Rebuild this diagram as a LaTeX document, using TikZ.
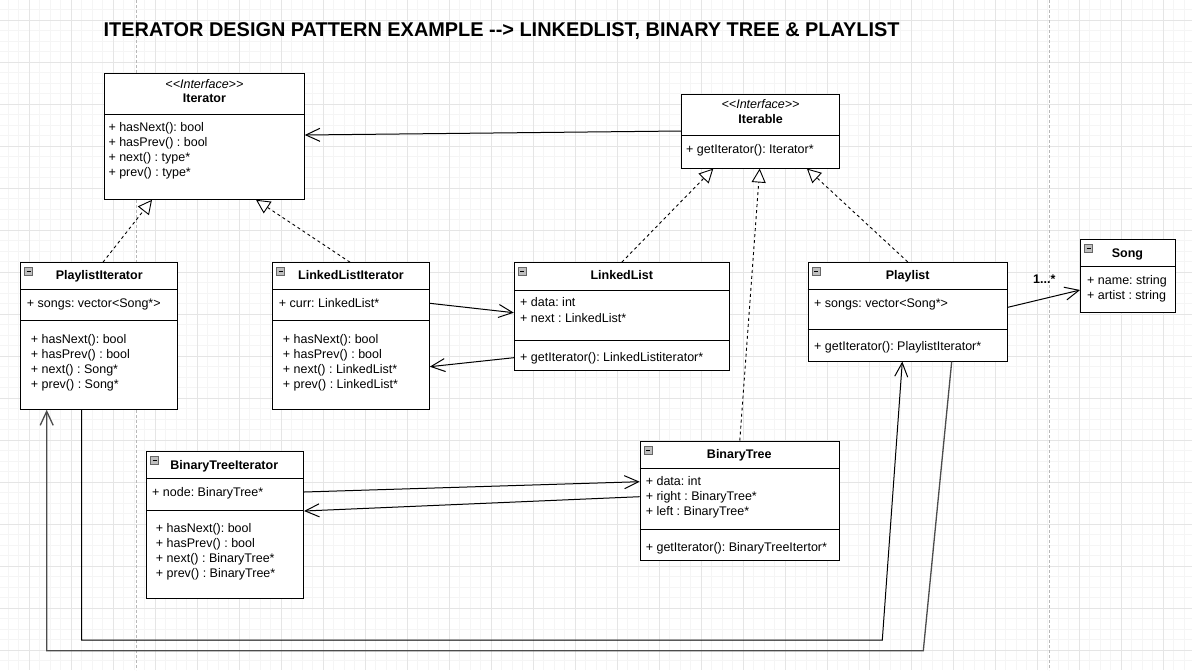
\documentclass[tikz,border=0pt]{standalone}
\usepackage{fontspec}
\setmainfont{Liberation Sans}
\usetikzlibrary{arrows.meta,positioning}

\begin{document}
\frenchspacing
\begin{tikzpicture}[x=1pt,y=-1pt,
  classbox/.style={draw,line width=1pt,fill=white,inner sep=0pt},
  member/.style={anchor=west,inner sep=0pt,text height=9pt,text depth=2.5pt,font=\fontsize{12.5}{15}\selectfont},
  classname/.style={inner sep=0pt,text height=9pt,text depth=2.5pt,font=\fontsize{12.5}{15}\selectfont\bfseries},
  stereo/.style={inner sep=0pt,text height=9pt,text depth=2.5pt,font=\fontsize{12.5}{15}\selectfont\itshape},
  sepline/.style={line width=1pt},
  minusicon/.style={draw=black!60,fill=black!25,minimum size=8pt,inner sep=0pt,line width=0.6pt},
  realize/.style={line width=0.9pt,dash pattern=on 3pt off 3pt,-{Triangle[open,length=14pt,width=14pt,fill=white]}},
  assoc/.style={line width=1pt,-{Straight Barb[length=14pt,width=13pt]}},
  minorgrid/.style={draw=black!4,line width=0.8pt},
  majorgrid/.style={draw=black!10,line width=0.8pt},
  pageline/.style={draw=black!28,line width=0.8pt,dash pattern=on 3pt off 2pt}]

\useasboundingbox (0,0) rectangle (1192,670);
\fill[white] (0,0) rectangle (1192,670);

% background grid
\foreach \x in {8.3,18.8,...,1192} \draw[minorgrid] (\x,0) -- (\x,670);
\foreach \y in {9.8,20.3,...,670} \draw[minorgrid] (0,\y) -- (1192,\y);
\foreach \x in {29.3,71.3,...,1192} \draw[majorgrid] (\x,0) -- (\x,670);
\foreach \y in {20.3,62.3,...,670} \draw[majorgrid] (0,\y) -- (1192,\y);
\draw[pageline] (136,0) -- (136,670);
\draw[pageline] (1049.3,0) -- (1049.3,670);

\node[anchor=base west,inner sep=0pt,font=\fontsize{19.9}{22}\selectfont\bfseries] (title) at (103.5,36)
{ITERATOR DESIGN PATTERN EXAMPLE -\kern0pt-> LINKEDLIST, BINARY TREE \& PLAYLIST};

% Iterator
\node[classbox,minimum width=199.7pt,minimum height=126pt] (iter) at (204.4,136.3) {};
\draw[sepline] (iter.west |- 0,114) -- (iter.east |- 0,114);
\node[stereo] (iter-st) at (204.4,85.7) {<\kern0pt<Interface>\kern0pt>};
\node[classname] (iter-name) at (204.4,99) {Iterator};
\foreach \t [count=\i] in {+ hasNext(): bool,+ hasPrev() : bool,+ next() : type*,+ prev() : type*}
  \node[member] (iter-m\i) at (108.3,{113.3+15*\i}) {\t};

% Iterable
\node[classbox,minimum width=157.4pt,minimum height=73.7pt] (itbl) at (760.6,131.2) {};
\draw[sepline] (itbl.west |- 0,135.3) -- (itbl.east |- 0,135.3);
\node[stereo] (itbl-st) at (760.6,105.7) {<\kern0pt<Interface>\kern0pt>};
\node[classname] (itbl-name) at (760.6,120) {Iterable};
\node[member] (itbl-m1) at (686,150) {+ getIterator(): Iterator*};

% PlaylistIterator
\node[classbox,minimum width=157pt,minimum height=146.6pt] (pi) at (99.2,336) {};
\draw[sepline] (pi.west |- 0,289.3) -- (pi.east |- 0,289.3);
\draw[sepline] (pi.west |- 0,320.7) -- (pi.east |- 0,320.7);
\node[minusicon] (pi-ic) at (28.7,271.7) {\rule{4pt}{0.7pt}};
\node[classname] (pi-name) at (99.2,276.7) {PlaylistIterator};
\node[member] (pi-a1) at (26.7,304) {+ songs: vector<Song*>};
\foreach \t [count=\i] in {+ hasNext(): bool,+ hasPrev() : bool,+ next() : Song*,+ prev() : Song*}
  \node[member] (pi-m\i) at (30.7,{325+15*\i}) {\t};

% LinkedListIterator
\node[classbox,minimum width=156.6pt,minimum height=146.6pt] (lli) at (351,336) {};
\draw[sepline] (lli.west |- 0,289.3) -- (lli.east |- 0,289.3);
\draw[sepline] (lli.west |- 0,320.7) -- (lli.east |- 0,320.7);
\node[minusicon] (lli-ic) at (280.7,271.7) {\rule{4pt}{0.7pt}};
\node[classname] (lli-name) at (351,276.7) {LinkedListIterator};
\node[member] (lli-a1) at (278.7,304) {+ curr: LinkedList*};
\foreach \t [count=\i] in {+ hasNext(): bool,+ hasPrev() : bool,+ next() : LinkedList*,+ prev() : LinkedList*}
  \node[member] (lli-m\i) at (282.7,{325+15*\i}) {\t};

% LinkedList
\node[classbox,minimum width=215pt,minimum height=108pt] (ll) at (621.8,316.7) {};
\draw[sepline] (ll.west |- 0,290) -- (ll.east |- 0,290);
\draw[sepline] (ll.west |- 0,340) -- (ll.east |- 0,340);
\node[minusicon] (ll-ic) at (522.3,271.7) {\rule{4pt}{0.7pt}};
\node[classname] (ll-name) at (621.8,276.7) {LinkedList};
\node[member] (ll-a1) at (520,303.3) {+ data: int};
\node[member] (ll-a2) at (520,319.3) {+ next : LinkedList*};
\node[member] (ll-m1) at (520,358.3) {+ getIterator(): LinkedListiterator*};

% Playlist
\node[classbox,minimum width=199.3pt,minimum height=98.7pt] (pl) at (907.7,311.7) {};
\draw[sepline] (pl.west |- 0,289.7) -- (pl.east |- 0,289.7);
\draw[sepline] (pl.west |- 0,329.3) -- (pl.east |- 0,329.3);
\node[minusicon] (pl-ic) at (816,271.3) {\rule{4pt}{0.7pt}};
\node[classname] (pl-name) at (907.7,276.7) {Playlist};
\node[member] (pl-a1) at (814,304.3) {+ songs: vector<Song*>};
\node[member] (pl-m1) at (814,347.3) {+ getIterator(): PlaylistIterator*};

% Song
\node[classbox,minimum width=94.4pt,minimum height=73.4pt] (song) at (1127.8,276) {};
\draw[sepline] (song.west |- 0,266.7) -- (song.east |- 0,266.7);
\node[minusicon] (song-ic) at (1088.6,248.3) {\rule{4pt}{0.7pt}};
\node[classname] (song-name) at (1127.4,254) {Song};
\node[member] (song-a1) at (1087,281) {+ name: string};
\node[member] (song-a2) at (1087,296) {+ artist : string};

% BinaryTreeIterator
\node[classbox,minimum width=157.1pt,minimum height=146.6pt] (bti) at (225,525) {};
\draw[sepline] (bti.west |- 0,478.7) -- (bti.east |- 0,478.7);
\draw[sepline] (bti.west |- 0,510) -- (bti.east |- 0,510);
\node[minusicon] (bti-ic) at (154.5,460.7) {\rule{4pt}{0.7pt}};
\node[classname] (bti-name) at (224.3,466) {BinaryTreeIterator};
\node[member] (bti-a1) at (152,493.3) {+ node: BinaryTree*};
\foreach \t [count=\i] in {+ hasNext(): bool,+ hasPrev() : bool,+ next() : BinaryTree*,+ prev() : BinaryTree*}
  \node[member] (bti-m\i) at (155.7,{514+15*\i}) {\t};

% BinaryTree
\node[classbox,minimum width=199.3pt,minimum height=119pt] (bt) at (739.8,500.5) {};
\draw[sepline] (bt.west |- 0,468.3) -- (bt.east |- 0,468.3);
\draw[sepline] (bt.west |- 0,529) -- (bt.east |- 0,529);
\node[minusicon] (bt-ic) at (648.1,450) {\rule{4pt}{0.7pt}};
\node[classname] (bt-name) at (739.3,455) {BinaryTree};
\foreach \t [count=\i] in {+ data: int,+ right : BinaryTree*,+ left : BinaryTree*}
  \node[member] (bt-a\i) at (645.6,{467.7+15*\i}) {\t};
\node[member] (bt-m1) at (645.6,548.3) {+ getIterator(): BinaryTreeItertor*};

% realizations
\draw[realize] (pi.north -| 103,0) -- (iter.south -| 152,0);
\draw[realize] (lli.north -| 350,0) -- (iter.south -| 256,0);
\draw[realize] (ll.north) -- (itbl.south -| 713.3,0);
\draw[realize] (bt.north) -- (itbl.south -| 759.7,0);
\draw[realize] (pl.north) -- (itbl.south -| 806.9,0);

% associations
\draw[assoc] (itbl.west |- 0,131) -- (iter.east |- 0,135);
\draw[assoc] (lli.east |- 0,303.3) -- (ll.west |- 0,312.7);
\draw[assoc] (ll.west |- 0,357.7) -- (lli.east |- 0,366.7);
\draw[assoc] (bti.east |- 0,492) -- (bt.west |- 0,481.7);
\draw[assoc] (bt.west |- 0,496.7) -- (bti.east |- 0,511);
\draw[assoc] (pl.east |- 0,307.3) -- (song.west |- 0,290);
\node[inner sep=0pt,font=\fontsize{12.5}{15}\selectfont\bfseries] (mult) at (1044.3,278.7) {1...*};
\draw[assoc] (pi.south -| 81.7,0) -- (81.7,640) -- (882.3,640) -- (pl.south -| 902.3,0);
\draw[assoc,draw=black!70,line width=1.3pt] (pl.south -| 951.7,0) -- (923.3,650.7) -- (46.7,650.7) -- (pi.south -| 46.7,0);
\end{tikzpicture}
\end{document}
